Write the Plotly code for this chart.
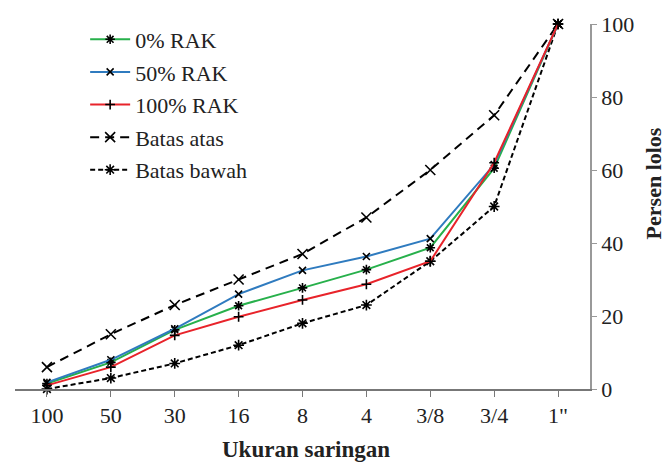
import plotly.graph_objects as go

sieve_labels = ["100", "50", "30", "16", "8", "4", "3/8", "3/4", '1"']
rak_0 = [1.5, 7.3, 16.2, 22.8, 27.7, 32.7, 38.7, 60.5, 100]
rak_50 = [1.8, 8.0, 16.5, 26.0, 32.5, 36.3, 41.2, 61.5, 100]
rak_100 = [1.0, 6.0, 14.7, 19.8, 24.4, 28.7, 35.0, 62.0, 100]
batas_atas = [6, 15, 23, 30, 37, 47, 60, 75, 100]
batas_bawah = [0, 3, 7, 12, 18, 23, 35, 50, 100]

FONT = "Liberation Serif"
fig = go.Figure()

def add(name, y, color, dash, symbol, msize, width, rank):
    fig.add_trace(go.Scatter(
        x=sieve_labels, y=y, name=name, mode="lines+markers",
        line=dict(color=color, width=width, dash=dash),
        marker=dict(symbol=symbol, size=msize, color="black",
                    line=dict(color="black", width=1.6)),
        cliponaxis=False, legendrank=rank, legendgroup=name,
    ))

add("Batas bawah", batas_bawah, "black", "5px,3px", "asterisk-open", 9, 2, 5)
add("Batas atas", batas_atas, "black", "9px,6px", "x-thin-open", 10, 2, 4)
add("0% RAK", rak_0, "#27b04b", "solid", "asterisk-open", 8, 2, 1)
add("50% RAK", rak_50, "#2f7bbf", "solid", "x-thin-open", 7, 2, 2)
add("100% RAK", rak_100, "#e8232a", "solid", "cross-thin-open", 7, 2, 3)

fig.update_layout(
    width=669, height=465,
    margin=dict(l=15, r=79, t=20, b=76),
    paper_bgcolor="white", plot_bgcolor="white",
    font=dict(family=FONT, size=22, color="#222"),
    showlegend=True,
    legend=dict(x=0.122, y=1.015, xanchor="left", yanchor="top",
                bgcolor="rgba(0,0,0,0)", font=dict(family=FONT, size=22, color="#222"),
                tracegroupgap=1, itemwidth=40),
    xaxis=dict(type="category", range=[-0.5, 8.5], showgrid=False, zeroline=False,
               showline=True, linecolor="#777", linewidth=1.5,
               ticks="outside", ticklen=6, tickcolor="#777", tickwidth=1.2,
               tickfont=dict(family=FONT, size=22, color="#222")),
    yaxis=dict(side="right", range=[0, 100], dtick=20, showgrid=False, zeroline=False,
               showline=True, linecolor="#999", linewidth=1.5,
               ticks="outside", ticklen=5, tickcolor="#999",
               tickfont=dict(family=FONT, size=22, color="#222")),
    annotations=[
        dict(text="<b>Ukuran saringan</b>", xref="paper", yref="paper",
             x=0.506, y=-0.165, xanchor="center", yanchor="middle", showarrow=False,
             font=dict(family=FONT, size=23, color="#222")),
        dict(text="<b>Persen lolos</b>", xref="paper", yref="paper",
             x=1.11, y=0.564, xanchor="center", yanchor="middle", showarrow=False,
             textangle=-90, font=dict(family=FONT, size=22, color="#222")),
    ],
)

fig.write_html("out.html", config={"displayModeBar": False},
               post_script="document.body.style.margin='0';")
